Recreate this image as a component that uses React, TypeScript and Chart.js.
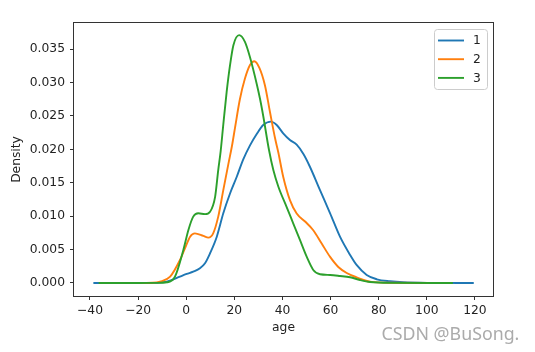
import React, { useEffect, useRef } from "react";
import { Chart, registerables } from "chart.js";

Chart.register(...registerables);

// ---- data ----
const SERIES_LABELS = ["1", "2", "3"];
const SERIES_COLORS = ["#1f77b4", "#ff7f0e", "#2ca02c"];

const AGE_1 = [-38.6, -20, -12, -8, -6.7, -2.6, 0.2, 2.9, 5.7, 7.8, 9.9, 12.7, 15.4, 18.2, 21.0, 23.7, 26.5, 29.3, 32.0, 35.2, 37.6, 40.3, 43.1, 45.9, 48.7, 51.4, 55.6, 59.8, 63.9, 68.1, 70.8, 75.0, 79.2, 84.7, 90.2, 100, 119.5];
const DENSITY_1 = [0, 0, 0.00002, 0.0002, 0.00035, 0.00095, 0.00135, 0.0017, 0.0022, 0.00295, 0.00445, 0.00693, 0.01043, 0.0134, 0.0159, 0.0185, 0.0206, 0.0223, 0.02365, 0.02415, 0.02365, 0.0224, 0.0214, 0.0207, 0.0193, 0.0174, 0.0139, 0.01043, 0.00693, 0.0042, 0.0027, 0.0012, 0.00055, 0.00025, 0.0001, 0.00002, 0];

const AGE_2 = [-34.0, -20, -14, -10.9, -6.7, -2.6, -0.5, 1.6, 3.6, 7.1, 9.2, 11.2, 13.3, 15.4, 17.5, 19.0, 20.3, 22.3, 24.4, 26.5, 28.3, 30.4, 32.7, 34.8, 36.9, 38.3, 40.3, 43.1, 45.9, 49.4, 52.8, 56.3, 59.8, 63.2, 66.7, 70.8, 76.4, 85, 104.7];
const DENSITY_2 = [0, 0, 0.00003, 0.0002, 0.00095, 0.00344, 0.0052, 0.00693, 0.00743, 0.00704, 0.00679, 0.00743, 0.00993, 0.0139, 0.0178, 0.0205, 0.0233, 0.0275, 0.0306, 0.03263, 0.0332, 0.0322, 0.0296, 0.0256, 0.0217, 0.0195, 0.0159, 0.0124, 0.0104, 0.0092, 0.0079, 0.0059, 0.0039, 0.0024, 0.0015, 0.00085, 0.0002, 0.00003, 0];

const AGE_3 = [-36.4, -20, -12, -8, -4.7, -1.2, 0.9, 2.9, 5.0, 7.8, 9.9, 12.0, 13.3, 14.3, 15.4, 16.8, 18.2, 19.6, 22.0, 24.4, 26.5, 29.3, 30.7, 32.0, 34.4, 36.2, 38.3, 41.7, 44.5, 47.3, 50.1, 52.8, 55.6, 59.8, 63.9, 68.1, 72.2, 76.4, 85, 110.8];
const DENSITY_3 = [0, 0, 0.00002, 0.0001, 0.00094, 0.00494, 0.00793, 0.00993, 0.01043, 0.0103, 0.01067, 0.0129, 0.0169, 0.0197, 0.0237, 0.0286, 0.0326, 0.0356, 0.0371, 0.0361, 0.0338, 0.0298, 0.0275, 0.025, 0.0199, 0.0169, 0.0144, 0.0114, 0.0089, 0.0064, 0.0039, 0.00195, 0.0013, 0.0012, 0.00105, 0.00085, 0.00045, 0.00015, 0.00002, 0];

const X_TICKS = [-40, -20, 0, 20, 40, 60, 80, 100, 120];
const Y_TICKS = [0, 0.005, 0.01, 0.015, 0.02, 0.025, 0.03, 0.035];
const X_MIN = -46.65;
const X_MAX = 127.5;
const Y_MIN = -0.00195;
const Y_MAX = 0.03892;
const X_LABEL = "age";
const Y_LABEL = "Density";
const WATERMARK = "CSDN @BuSong.";

const FONT = "'DejaVu Sans', sans-serif";
const FONT_SIZE = 12.3;
const TEXT_COLOR = "#222";
const AXIS_COLOR = "#333";

const SERIES = [
  { xs: AGE_1, ys: DENSITY_1 },
  { xs: AGE_2, ys: DENSITY_2 },
  { xs: AGE_3, ys: DENSITY_3 },
];

const fmtX = (v: number) => (v < 0 ? "\u2212" + Math.abs(v) : String(v));

const framePlugin = {
  id: "frameAndLegend",
  afterDraw(chart: any) {
    const { ctx, chartArea: a } = chart;
    ctx.save();
    // axes frame
    ctx.strokeStyle = AXIS_COLOR;
    ctx.lineWidth = 1;
    ctx.strokeRect(a.left - 0.5, a.top - 0.5, a.right - a.left + 1, a.bottom - a.top + 1);

    // legend
    const bx = 434.5, by = 29.5, bw = 53, bh = 60, r = 3;
    ctx.beginPath();
    ctx.moveTo(bx + r, by);
    ctx.lineTo(bx + bw - r, by);
    ctx.arcTo(bx + bw, by, bx + bw, by + r, r);
    ctx.lineTo(bx + bw, by + bh - r);
    ctx.arcTo(bx + bw, by + bh, bx + bw - r, by + bh, r);
    ctx.lineTo(bx + r, by + bh);
    ctx.arcTo(bx, by + bh, bx, by + bh - r, r);
    ctx.lineTo(bx, by + r);
    ctx.arcTo(bx, by, bx + r, by, r);
    ctx.closePath();
    ctx.fillStyle = "rgba(255,255,255,0.8)";
    ctx.fill();
    ctx.strokeStyle = "#cccccc";
    ctx.lineWidth = 1;
    ctx.stroke();

    ctx.font = `${FONT_SIZE}px ${FONT}`;
    ctx.textBaseline = "middle";
    ctx.textAlign = "left";
    chart.data.datasets.forEach((ds: any, i: number) => {
      const y = 40.5 + i * 18.7;
      ctx.strokeStyle = ds.borderColor;
      ctx.lineWidth = 1.9;
      ctx.beginPath();
      ctx.moveTo(438, y);
      ctx.lineTo(464, y);
      ctx.stroke();
      ctx.fillStyle = TEXT_COLOR;
      ctx.fillText(ds.label, 473, y + 0.5);
    });

    // watermark
    let size = 18;
    ctx.font = `${size}px 'Noto Sans', sans-serif`;
    const w = ctx.measureText(WATERMARK).width;
    size = size * 138 / w;
    ctx.font = `${size}px 'Noto Sans', sans-serif`;
    ctx.fillStyle = "#ababab";
    ctx.textBaseline = "alphabetic";
    ctx.fillText(WATERMARK, 381.5, 339.5);
    ctx.restore();
  },
};

export default function App() {
  const ref = useRef<HTMLCanvasElement>(null);
  useEffect(() => {
    const chart = new Chart(ref.current as HTMLCanvasElement, {
      type: "line",
      data: {
        datasets: SERIES.map((s, i) => ({
          label: SERIES_LABELS[i],
          data: s.xs.map((x, j) => ({ x, y: s.ys[j] })),
          borderColor: SERIES_COLORS[i],
          backgroundColor: SERIES_COLORS[i],
          borderWidth: 1.9,
          pointRadius: 0,
          fill: false,
          cubicInterpolationMode: "monotone",
          order: SERIES.length - 1 - i,
        })),
      },
      options: {
        responsive: false,
        devicePixelRatio: 1,
        animation: false,
        events: [],
        layout: { padding: { left: 0, top: 23, right: 42, bottom: 0 } },
        plugins: { legend: { display: false }, tooltip: { enabled: false } },
        scales: {
          x: {
            type: "linear",
            position: "bottom",
            min: X_MIN,
            max: X_MAX,
            afterBuildTicks: (s: any) => {
              s.ticks = X_TICKS.map((v) => ({ value: v }));
            },
            afterFit: (s: any) => {
              s.height = 56;
            },
            ticks: {
              callback: (v: any) => fmtX(Number(v)),
              font: { family: FONT, size: FONT_SIZE },
              color: TEXT_COLOR,
              padding: 3,
              maxRotation: 0,
              autoSkip: false,
            },
            grid: { drawOnChartArea: false, drawTicks: true, tickLength: 4, color: AXIS_COLOR, lineWidth: 1 },
            border: { display: false },
            title: {
              display: true,
              text: X_LABEL,
              font: { family: FONT, size: FONT_SIZE },
              color: TEXT_COLOR,
              padding: { top: 0, bottom: 16.5 },
            },
          },
          y: {
            type: "linear",
            position: "left",
            min: Y_MIN,
            max: Y_MAX,
            afterBuildTicks: (s: any) => {
              s.ticks = Y_TICKS.map((v) => ({ value: v }));
            },
            afterFit: (s: any) => {
              s.width = 74;
            },
            ticks: {
              callback: (v: any) => Number(v).toFixed(3),
              font: { family: FONT, size: FONT_SIZE },
              color: TEXT_COLOR,
              padding: 5,
              autoSkip: false,
            },
            grid: { drawOnChartArea: false, drawTicks: true, tickLength: 4, color: AXIS_COLOR, lineWidth: 1 },
            border: { display: false },
            title: {
              display: true,
              text: Y_LABEL,
              font: { family: FONT, size: FONT_SIZE },
              color: TEXT_COLOR,
              padding: { top: 9, bottom: 0 },
            },
          },
        },
      },
      plugins: [framePlugin],
    } as any);
    return () => chart.destroy();
  }, []);
  return (
    <div style={{ position: "fixed", left: 0, top: 0, width: 535, height: 352, background: "#fff" }}>
      <canvas ref={ref} width={535} height={352} style={{ display: "block", width: 535, height: 352 }} />
    </div>
  );
}
